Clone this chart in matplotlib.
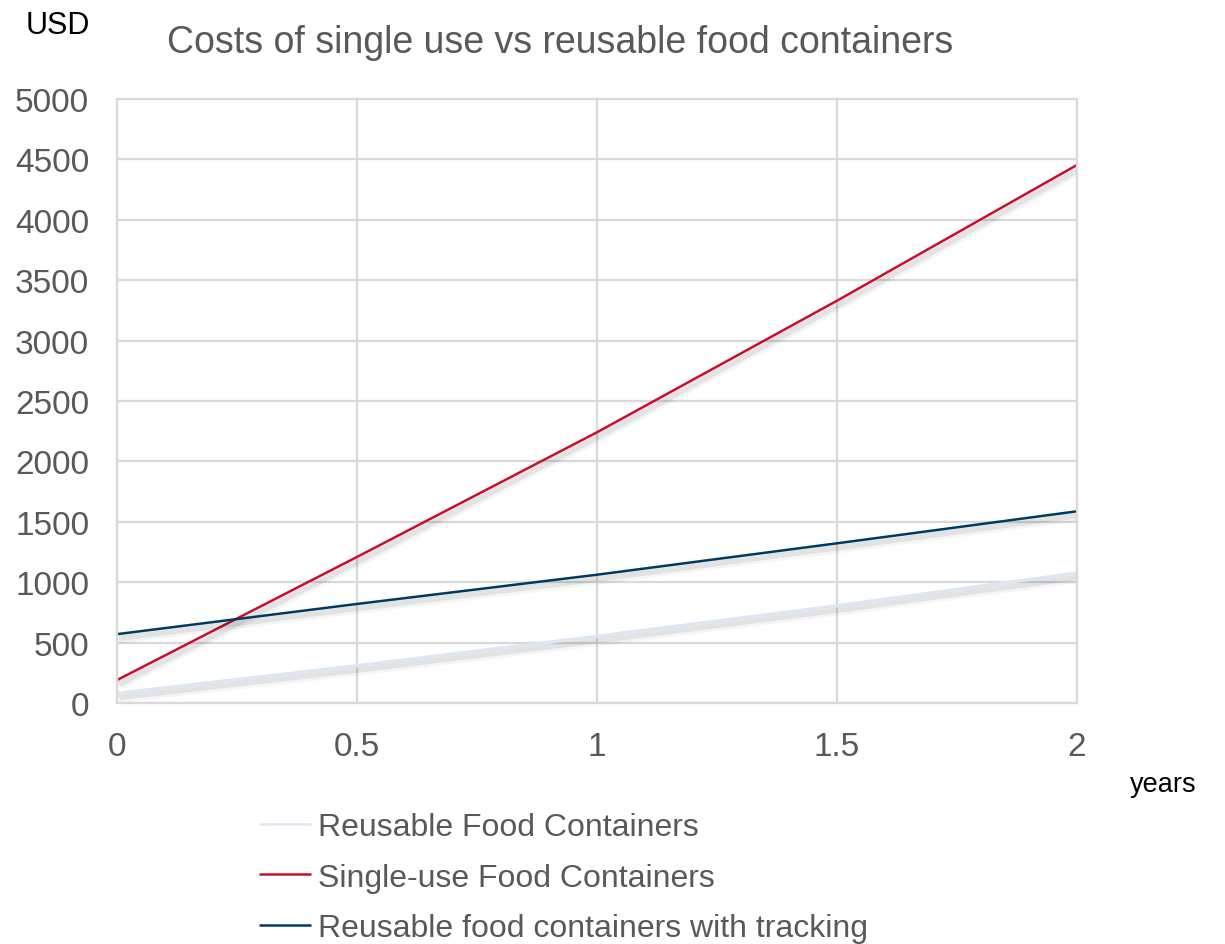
"""Cost comparison: single-use vs reusable food containers over two years."""
import matplotlib
matplotlib.use("Agg")
import matplotlib.pyplot as plt
import matplotlib.patheffects as pe

plt.rcParams["font.family"] = ["Liberation Sans", "DejaVu Sans"]

years = [0, 0.5, 1, 1.5, 2]
reusable = [80, 309, 552, 805, 1076]
single_use = [190, 1209, 2241, 3330, 4454]
tracking = [570, 820, 1062, 1322, 1587]

LABELS = ["Reusable Food Containers",
          "Single-use Food Containers",
          "Reusable food containers with tracking"]
COLORS = ["#dde6f1", "#c8102e", "#003a63"]

TXT = "#595959"
GRID = "#d9d9d9"

fig = plt.figure(figsize=(12.25, 9.45), dpi=100)
ax = fig.add_axes([0.0955, 0.2550, 0.7837, 0.6392])

# soft drop shadow under each series
shadow = [pe.SimpleLineShadow(offset=(1.5, -3), shadow_color="#000000", alpha=0.04, linewidth=8),
          pe.SimpleLineShadow(offset=(1.5, -3), shadow_color="#000000", alpha=0.07, linewidth=4),
          pe.Normal()]

for ys, lab, col in zip([reusable, single_use, tracking], LABELS, COLORS):
    ax.plot(years, ys, color=col, lw=2.4 if col == COLORS[0] else 1.8,
            label=lab, path_effects=shadow, solid_capstyle="butt")

ax.set_xlim(0, 2)
ax.set_ylim(0, 5000)
ax.set_xticks([0, 0.5, 1, 1.5, 2])
ax.set_xticklabels(["0", "0.5", "1", "1.5", "2"])
ax.set_yticks(range(0, 5001, 500))
ax.grid(True, color=GRID, lw=1.6)
ax.set_axisbelow(True)
for s in ax.spines.values():
    s.set_color(GRID)
    s.set_linewidth(1.6)
ax.tick_params(length=0, labelsize=24, colors=TXT)
ax.tick_params(axis="x", pad=20)
ax.tick_params(axis="y", pad=20)

fig.text(0.457, 0.955, "Costs of single use vs reusable food containers",
         ha="center", va="center", fontsize=27, color=TXT)
fig.text(0.021, 0.973, "USD", ha="left", va="center", fontsize=22, color="black")
fig.text(0.977, 0.169, "years", ha="right", va="center", fontsize=19.5, color="black")

leg = fig.legend(loc="upper left", bbox_to_anchor=(0.198, 0.1565), frameon=False,
                 fontsize=23, handlelength=1.65, handletextpad=0.2, labelspacing=0.64,
                 borderpad=0)
for t in leg.get_texts():
    t.set_color(TXT)
for h in leg.get_lines():
    h.set_path_effects([pe.Normal()])
    h.set_linewidth(1.8)

fig.savefig("out.png", dpi=100)
plt.close(fig)
